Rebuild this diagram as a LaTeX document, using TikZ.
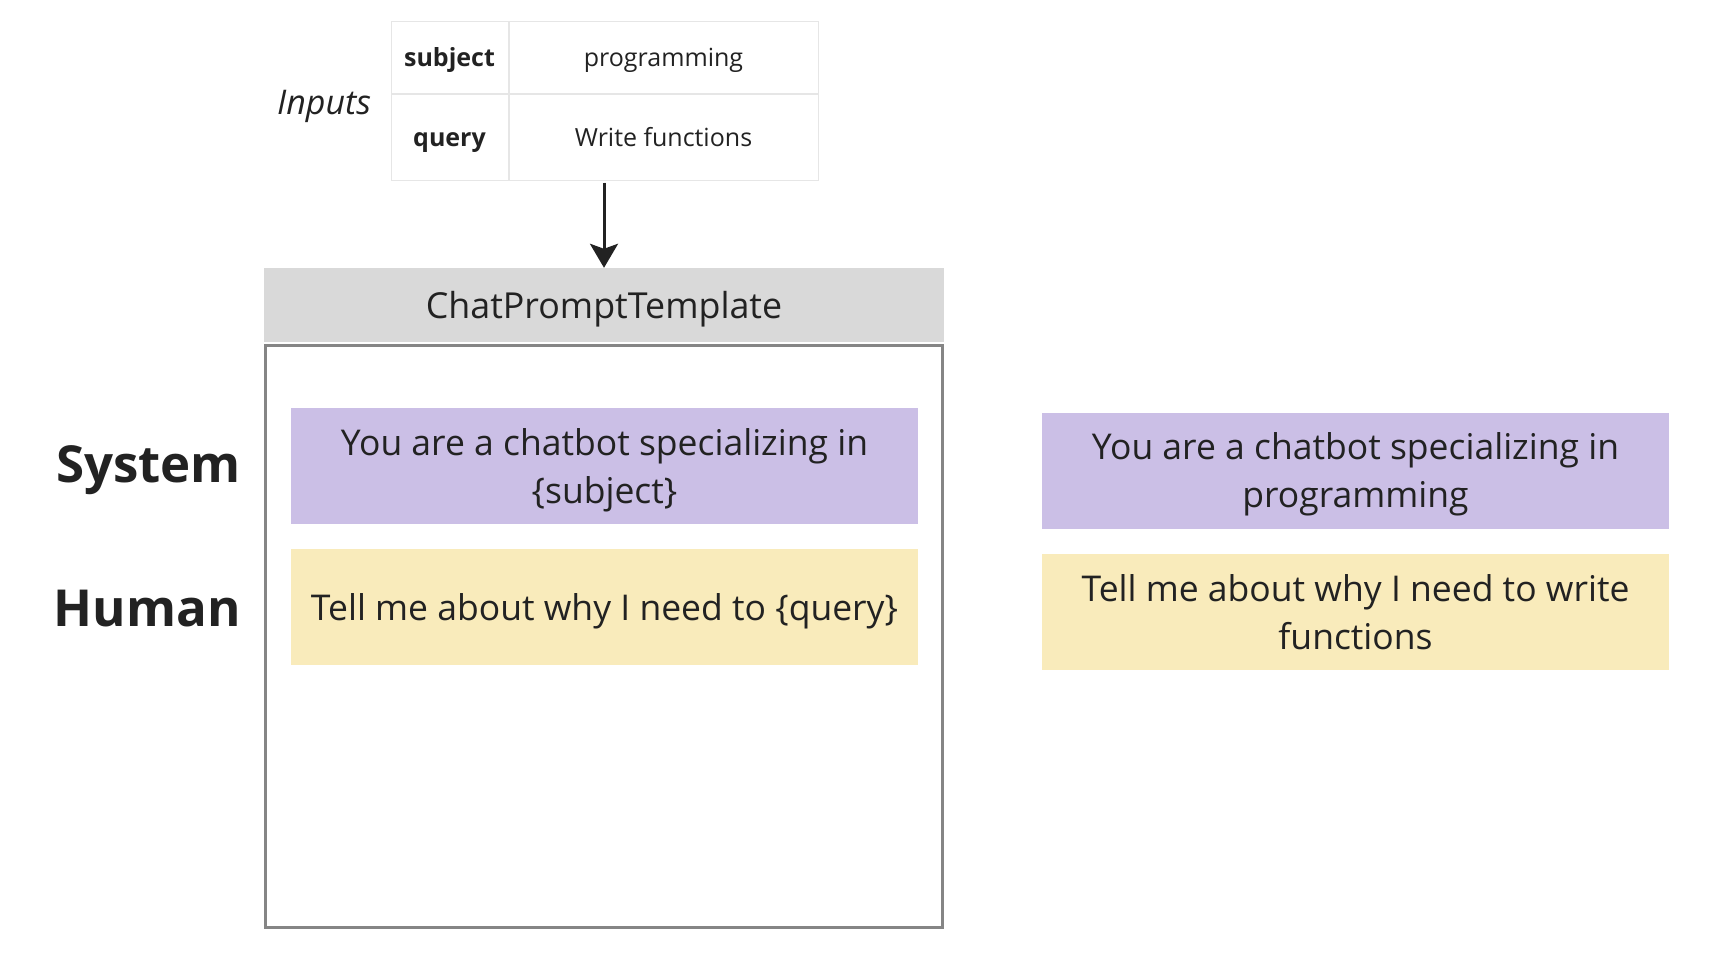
\documentclass[tikz,border=0pt]{standalone}
\usepackage{fontspec}
\setmainfont{Open Sans}
\usetikzlibrary{positioning, arrows.meta}
\definecolor{sysfill}{HTML}{CBBFE6}
\definecolor{humfill}{HTML}{F9EBBB}
\definecolor{headfill}{HTML}{D9D9D9}
\definecolor{cellline}{HTML}{E6E6E6}
\definecolor{frameline}{HTML}{858585}
\definecolor{ink}{HTML}{222222}
\tikzset{
  x=1pt, y=-1pt, node distance=0pt, text=ink,
  cell/.style={draw=cellline, line width=1pt, minimum height=72pt,
    text height=21pt, text depth=3pt, font=\fontsize{25}{30}\selectfont},
  msg/.style={minimum width=627pt, minimum height=116pt, align=center,
    text depth=0pt, font=\fontsize{35.5}{48}\selectfont},
  role/.style={anchor=east, text depth=0pt, font=\fontsize{51}{60}\selectfont\bfseries}
}

\begin{document}
\begin{tikzpicture}
      \tikzstyle{every node}=[inner sep=0pt]
      \useasboundingbox (0,0) rectangle (1724,962);

      % inputs table
      \node[cell, minimum width=117pt] (subjkey) at (449.5,57) {\bfseries subject};
      \node[cell, minimum width=309pt, right = of subjkey] (subjval) {programming};
      \node[cell, minimum width=117pt, minimum height=86pt, below = of subjkey] (querykey) {\bfseries query};
      \node[cell, minimum width=309pt, minimum height=86pt, right = of querykey] (queryval) {Write functions};
      \node[font=\fontsize{34}{40}\selectfont\itshape] (inputs) at (324,106) {Inputs};

      % template
      \node[fill=headfill, minimum width=680pt, minimum height=74pt, text depth=0pt,
        font=\fontsize{35.8}{42}\selectfont] (tmplhead) at (604,305) {ChatPromptTemplate};
      \node[draw=frameline, line width=3pt, minimum width=677pt, minimum height=582pt,
        below = 1.5pt of tmplhead] (tmplbody) {};
      \node[msg, fill=sysfill] (sysmsg) at (604.5,466) {You are a chatbot specializing in\\\{subject\}};
      \node[msg, fill=humfill, below = 25pt of sysmsg] (hummsg) {Tell me about why I need to \{query\}};
      \node[role] (system) at (241,464) {System};
      \node[role] (human) at (241,608) {Human};

      % filled prompt
      \node[msg, fill=sysfill] (outsys) at (1355.5,470.5) {You are a chatbot specializing in\\programming};
      \node[msg, fill=humfill, below = 25pt of outsys] (outhum) {Tell me about why I need to write\\functions};

      \draw[-{Stealth[length=24pt, width=28pt, inset=5pt]}, line width=3pt, draw=ink, fill=ink]
        (tmplhead.north |- querykey.south) ++(0,2) -- (tmplhead.north);

    \end{tikzpicture}
\end{document}
